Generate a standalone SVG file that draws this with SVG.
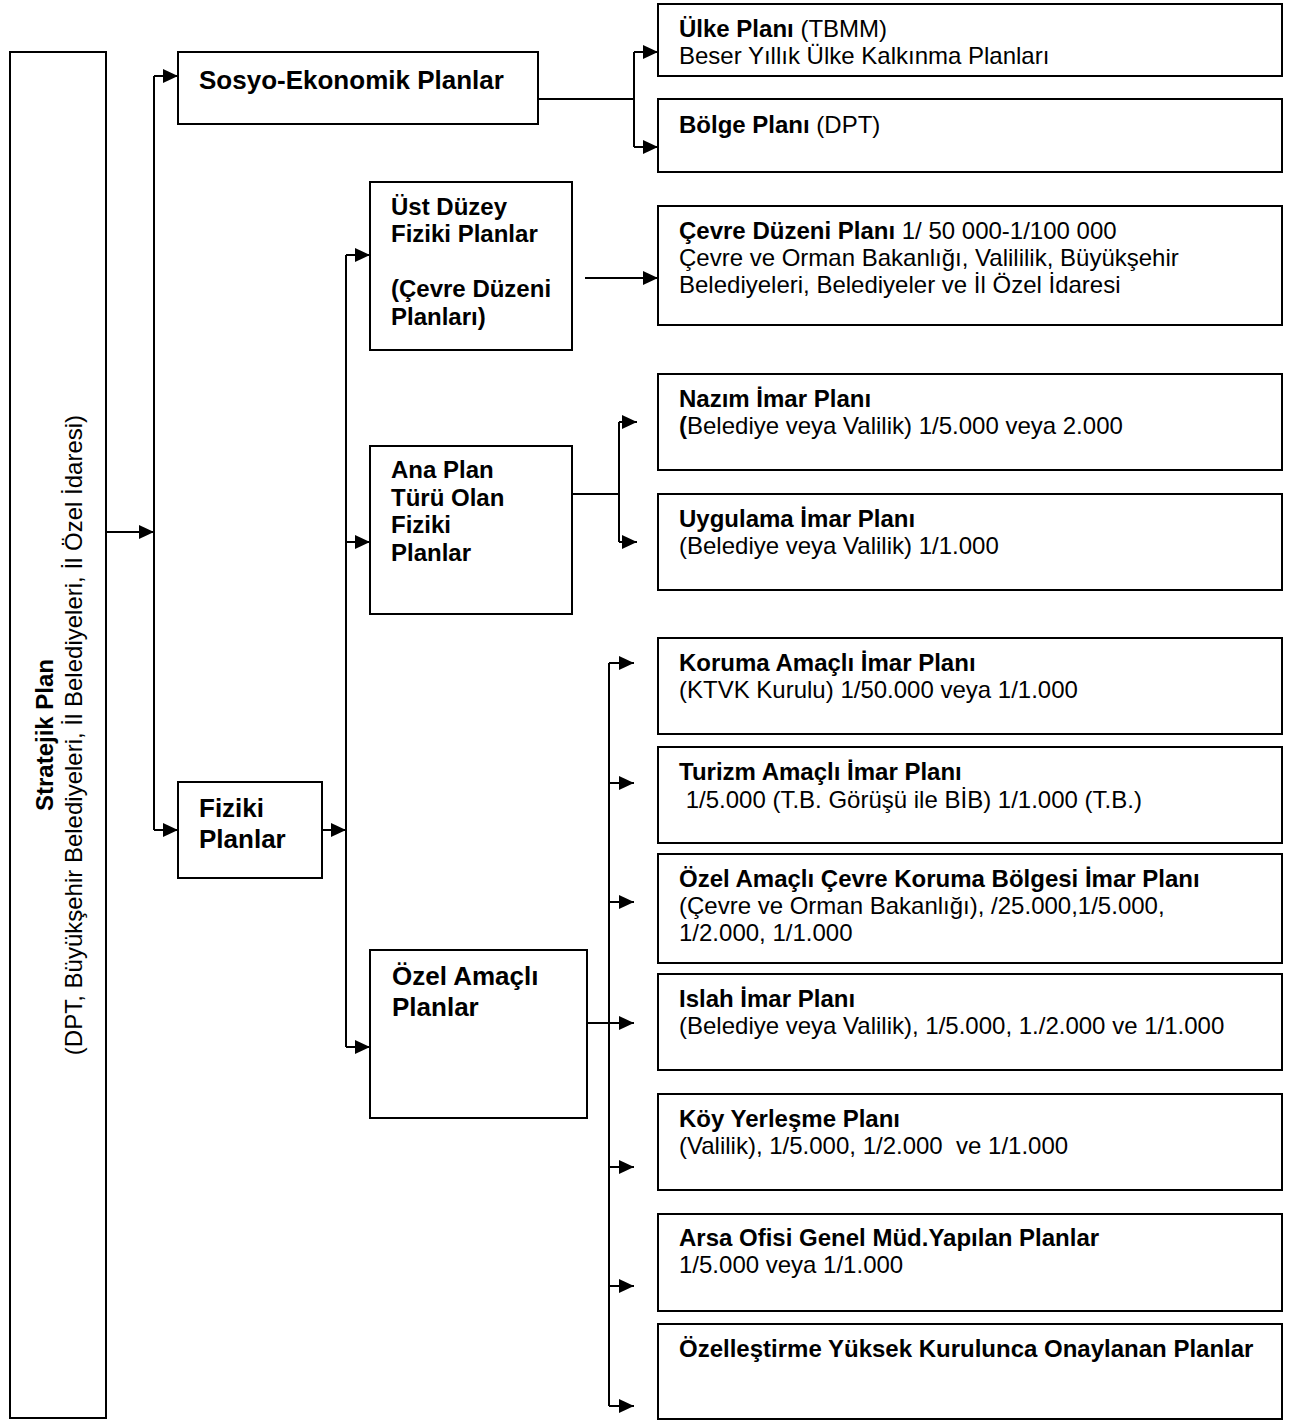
<svg xmlns="http://www.w3.org/2000/svg" width="1293" height="1421" viewBox="0 0 1293 1421">
  <defs>
    <marker id="arrow" viewBox="0 0 15 14" refX="15" refY="7" markerWidth="15" markerHeight="14" markerUnits="userSpaceOnUse" orient="auto">
      <path d="M0,0 L15,7 L0,14 z" fill="#000"/>
    </marker>
    <style>
      .box { fill: #fff; stroke: #000; stroke-width: 2; }
      .t { font-family: "Liberation Sans", Arial, sans-serif; font-size: 24px; fill: #000; }
      .big { font-size: 26px; }
      .b { font-weight: bold; }
      .wire { fill: none; stroke: #000; stroke-width: 2; }
      .arr { fill: none; stroke: #000; stroke-width: 2; marker-end: url(#arrow); }
    </style>
  </defs>
  <rect width="1293" height="1421" fill="#fff"/>

  <!-- connectors -->
  <g id="connectors">
    <!-- strategic plan to first bus -->
    <path class="arr" d="M106,532 H154"/>
    <path class="wire" d="M154,76 V830"/>
    <path class="arr" d="M154,76 H178"/>
    <path class="arr" d="M154,830 H178"/>
    <!-- socio-economic branch -->
    <path class="wire" d="M538,99 H634 M634,52 V147"/>
    <path class="arr" d="M634,52 H658"/>
    <path class="arr" d="M634,147 H658"/>
    <!-- physical plans bus -->
    <path class="arr" d="M322,830 H346"/>
    <path class="wire" d="M346,255 V1047"/>
    <path class="arr" d="M346,255 H370"/>
    <path class="arr" d="M346,542 H370"/>
    <path class="arr" d="M346,1047 H370"/>
    <!-- upper level -->
    <path class="arr" d="M585,278 H658"/>
    <!-- main plan type -->
    <path class="wire" d="M572,494 H619 M619,422 V542"/>
    <path class="arr" d="M619,422 H637"/>
    <path class="arr" d="M619,542 H637"/>
    <!-- special purpose bus -->
    <path class="wire" d="M609,663 V1406"/>
    <path class="arr" d="M587,1023 H634"/>
    <path class="arr" d="M609,663 H634"/>
    <path class="arr" d="M609,783 H634"/>
    <path class="arr" d="M609,902 H634"/>
    <path class="arr" d="M609,1167 H634"/>
    <path class="arr" d="M609,1286 H634"/>
    <path class="arr" d="M609,1406 H634"/>
  </g>

  <g id="stratejik">
    <rect class="box" x="10" y="52" width="96" height="1366"/>
    <text class="t b" transform="translate(53,735) rotate(-90)" text-anchor="middle">Stratejik Plan</text>
    <text class="t" transform="translate(82,735) rotate(-90)" text-anchor="middle">(DPT, Büyükşehir Belediyeleri, İl Belediyeleri, İl Özel İdaresi)</text>
  </g>

  <g id="sosyo">
    <rect class="box" x="178" y="52" width="360" height="72"/>
    <text class="t big b" x="199" y="89">Sosyo-Ekonomik Planlar</text>
  </g>

  <g id="fiziki">
    <rect class="box" x="178" y="782" width="144" height="96"/>
    <text class="t big b" x="199" y="817">Fiziki</text>
    <text class="t big b" x="199" y="848">Planlar</text>
  </g>

  <g id="ulke">
    <rect class="box" x="658" y="4" width="624" height="72"/>
    <text class="t" x="679" y="37"><tspan class="b">Ülke Planı</tspan> (TBMM)</text>
    <text class="t" x="679" y="64">Beser Yıllık Ülke Kalkınma Planları</text>
  </g>

  <g id="bolge">
    <rect class="box" x="658" y="99" width="624" height="73"/>
    <text class="t" x="679" y="133"><tspan class="b">Bölge Planı</tspan> (DPT)</text>
  </g>

  <g id="ust-duzey">
    <rect class="box" x="370" y="182" width="202" height="168"/>
    <text class="t b" x="391" y="215">Üst Düzey</text>
    <text class="t b" x="391" y="242">Fiziki Planlar</text>
    <text class="t b" x="391" y="297">(Çevre Düzeni</text>
    <text class="t b" x="391" y="325">Planları)</text>
  </g>

  <g id="cevre-duzeni">
    <rect class="box" x="658" y="206" width="624" height="119"/>
    <text class="t" x="679" y="239"><tspan class="b">Çevre Düzeni Planı</tspan> 1/ 50 000-1/100 000</text>
    <text class="t" x="679" y="266">Çevre ve Orman Bakanlığı, Valililik, Büyükşehir</text>
    <text class="t" x="679" y="293">Belediyeleri, Belediyeler ve İl Özel İdaresi</text>
  </g>

  <g id="ana-plan">
    <rect class="box" x="370" y="446" width="202" height="168"/>
    <text class="t b" x="391" y="478">Ana Plan</text>
    <text class="t b" x="391" y="506">Türü Olan</text>
    <text class="t b" x="391" y="533">Fiziki</text>
    <text class="t b" x="391" y="561">Planlar</text>
  </g>

  <g id="nazim">
    <rect class="box" x="658" y="374" width="624" height="96"/>
    <text class="t b" x="679" y="407">Nazım İmar Planı</text>
    <text class="t" x="679" y="434"><tspan class="b">(</tspan>Belediye veya Valilik) 1/5.000 veya 2.000</text>
  </g>

  <g id="uygulama">
    <rect class="box" x="658" y="494" width="624" height="96"/>
    <text class="t b" x="679" y="527">Uygulama İmar Planı</text>
    <text class="t" x="679" y="554">(Belediye veya Valilik) 1/1.000</text>
  </g>

  <g id="ozel-amacli">
    <rect class="box" x="370" y="950" width="217" height="168"/>
    <text class="t big b" x="392" y="985">Özel Amaçlı</text>
    <text class="t big b" x="392" y="1016">Planlar</text>
  </g>

  <g id="koruma">
    <rect class="box" x="658" y="638" width="624" height="96"/>
    <text class="t b" x="679" y="671">Koruma Amaçlı İmar Planı</text>
    <text class="t" x="679" y="698">(KTVK Kurulu) 1/50.000 veya 1/1.000</text>
  </g>

  <g id="turizm">
    <rect class="box" x="658" y="747" width="624" height="96"/>
    <text class="t b" x="679" y="780">Turizm Amaçlı İmar Planı</text>
    <text class="t" x="679" y="808" xml:space="preserve"> 1/5.000 (T.B. Görüşü ile BİB) 1/1.000 (T.B.)</text>
  </g>

  <g id="cevre-koruma">
    <rect class="box" x="658" y="854" width="624" height="109"/>
    <text class="t b" x="679" y="887">Özel Amaçlı Çevre Koruma Bölgesi İmar Planı</text>
    <text class="t" x="679" y="914">(Çevre ve Orman Bakanlığı), /25.000,1/5.000,</text>
    <text class="t" x="679" y="941">1/2.000, 1/1.000</text>
  </g>

  <g id="islah">
    <rect class="box" x="658" y="974" width="624" height="96"/>
    <text class="t b" x="679" y="1007">Islah İmar Planı</text>
    <text class="t" x="679" y="1034">(Belediye veya Valilik), 1/5.000, 1./2.000 ve 1/1.000</text>
  </g>

  <g id="koy">
    <rect class="box" x="658" y="1094" width="624" height="96"/>
    <text class="t b" x="679" y="1127">Köy Yerleşme Planı</text>
    <text class="t" x="679" y="1154" xml:space="preserve">(Valilik), 1/5.000, 1/2.000  ve 1/1.000</text>
  </g>

  <g id="arsa">
    <rect class="box" x="658" y="1214" width="624" height="97"/>
    <text class="t b" x="679" y="1246">Arsa Ofisi Genel Müd.Yapılan Planlar</text>
    <text class="t" x="679" y="1273">1/5.000 veya 1/1.000</text>
  </g>

  <g id="ozellestirme">
    <rect class="box" x="658" y="1324" width="624" height="95"/>
    <text class="t b" x="679" y="1357">Özelleştirme Yüksek Kurulunca Onaylanan Planlar</text>
  </g>
</svg>
